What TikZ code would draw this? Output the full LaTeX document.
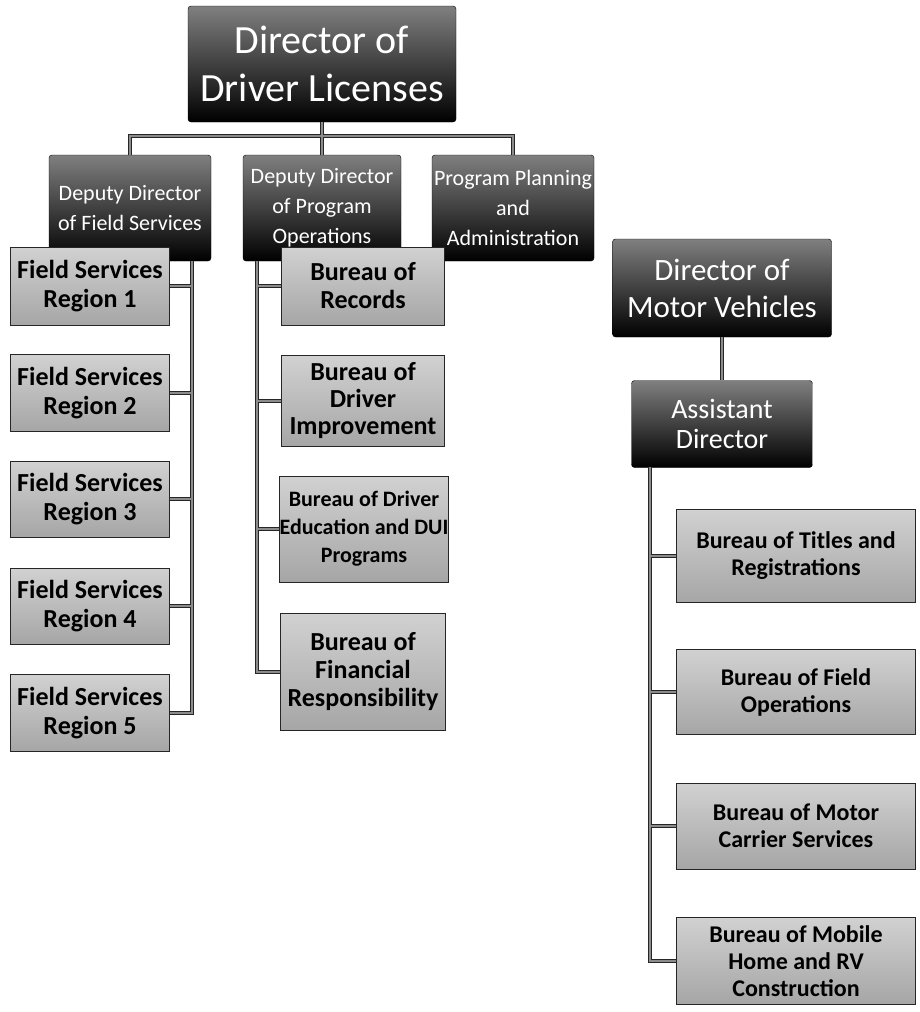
\documentclass[tikz,border=0pt]{standalone}
\usepackage{fontspec}
\setmainfont{Carlito}
\tikzset{
	headbox/.style={rounded corners=3pt,draw=black,top color=black!50,bottom color=black,text=white,align=center,inner sep=0pt},
	unitbox/.style={draw=black!85,line width=1pt,top color=black!18,bottom color=black!35,align=center,inner sep=0pt,font=\bfseries\fontsize{26}{29}\selectfont},
	conn/.style={draw=black!45,line width=2.5pt,preaction={draw=black!85,line width=4.5pt}},
}
\begin{document}
\begin{tikzpicture}[x=1pt,y=-1pt]
		\useasboundingbox (0,0) rectangle (920,1012);
		% driver licenses
		\node[headbox,minimum width=268pt,minimum height=116pt,font=\fontsize{40}{48}\selectfont] (dl) at (322,64) {Director of\\Driver Licenses};
		\node[headbox,minimum width=162pt,minimum height=106pt,font=\fontsize{22}{30}\selectfont] (dfs) at (130,208) {Deputy Director\\of Field Services};
		\node[headbox,minimum width=158pt,minimum height=106pt,font=\fontsize{22}{30}\selectfont] (dpo) at (322,208) {Deputy Director\\of Program\\Operations};
		\node[headbox,minimum width=162pt,minimum height=106pt,font=\fontsize{22}{30}\selectfont] (ppa) at (513,208) {Program Planning\\and\\Administration};
		\node[unitbox,minimum width=159pt,minimum height=78pt] (fs1) at (90,286) {Field Services\\Region 1};
		\node[unitbox,minimum width=159pt,minimum height=77pt] (fs2) at (90,393) {Field Services\\Region 2};
		\node[unitbox,minimum width=159pt,minimum height=76pt] (fs3) at (90,499) {Field Services\\Region 3};
		\node[unitbox,minimum width=159pt,minimum height=76pt] (fs4) at (90,606) {Field Services\\Region 4};
		\node[unitbox,minimum width=159pt,minimum height=77pt] (fs5) at (90,713) {Field Services\\Region 5};
		\node[unitbox,minimum width=163pt,minimum height=78pt,font=\bfseries\fontsize{26}{28}\selectfont] (br) at (363,286) {Bureau of\\Records};
		\node[unitbox,minimum width=163pt,minimum height=91pt,font=\bfseries\fontsize{26}{27}\selectfont] (bdi) at (363,401) {Bureau of\\Driver\\Improvement};
		\node[unitbox,minimum width=165pt,minimum height=106pt,font=\bfseries\fontsize{22}{28}\selectfont] (bde) at (364,529) {Bureau of Driver\\Education and DUI\\Programs};
		\node[unitbox,minimum width=165pt,minimum height=117pt,font=\bfseries\fontsize{26}{28}\selectfont] (bfr) at (363,672) {Bureau of\\Financial\\Responsibility};
		% motor vehicles
		\node[headbox,minimum width=219pt,minimum height=98pt,font=\fontsize{31}{37}\selectfont] (dmv) at (722,288) {Director of\\Motor Vehicles};
		\node[headbox,minimum width=181pt,minimum height=87pt,font=\fontsize{28}{30}\selectfont] (ad) at (722,424) {Assistant\\Director};
		\node[unitbox,minimum width=239pt,minimum height=93pt,font=\bfseries\fontsize{24}{27}\selectfont] (btr) at (796,556) {Bureau of Titles and\\Registrations};
		\node[unitbox,minimum width=239pt,minimum height=85pt,font=\bfseries\fontsize{24}{27}\selectfont] (bfo) at (796,692) {Bureau of Field\\Operations};
		\node[unitbox,minimum width=239pt,minimum height=86pt,font=\bfseries\fontsize{24}{27}\selectfont] (bmc) at (796,826) {Bureau of Motor\\Carrier Services};
		\node[unitbox,minimum width=239pt,minimum height=87pt,font=\bfseries\fontsize{24}{27}\selectfont] (bmh) at (796,961) {Bureau of Mobile\\Home and RV\\Construction};
		\coordinate (fsbus) at (192,261);
		\coordinate (pobus) at (257,261);
		\coordinate (adbus) at (650,467);
		\draw[conn] (dl.south) -- ++(0,14) -| (dfs.north)
			(dl.south) -- ++(0,14) -| (ppa.north)
			(dl.south) -- (dpo.north)
			(fsbus) |- (fs1.east) (fsbus) |- (fs2.east) (fsbus) |- (fs3.east) (fsbus) |- (fs4.east) (fsbus) |- (fs5.east)
			(pobus) |- (br.west) (pobus) |- (bdi.west) (pobus) |- (bde.west) (pobus) |- (bfr.west)
			(dmv.south) -- (ad.north)
			(adbus) |- (btr.west) (adbus) |- (bfo.west) (adbus) |- (bmc.west) (adbus) |- (bmh.west);
	\end{tikzpicture}
\end{document}
